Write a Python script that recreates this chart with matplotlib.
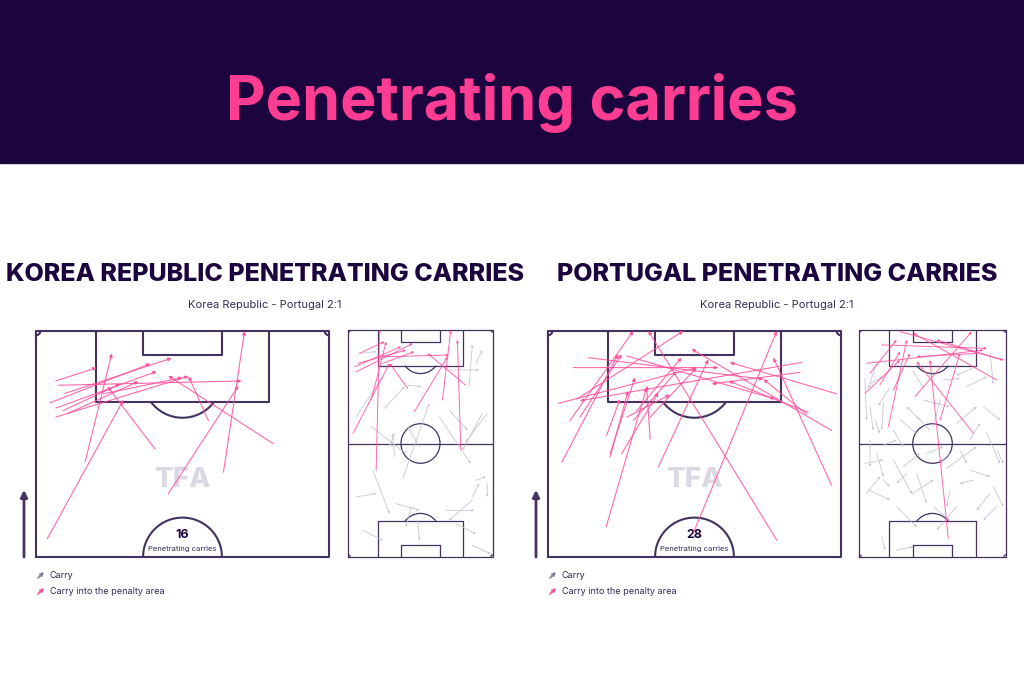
import matplotlib.pyplot as plt
from matplotlib.patches import Rectangle, Arc, FancyArrowPatch

# colours
NAVY = '#1c043e'
TITLE_PINK = '#ff3d92'
PINK = '#ff4f9e'
LINE = '#43325f'
GREY = '#c4bfd3'
PITCH_BG = '#f8f8fa'

TITLE = 'Penetrating carries'
SUBTITLE = 'Korea Republic - Portugal 2:1'
TEAMS = ['KOREA REPUBLIC PENETRATING CARRIES', 'PORTUGAL PENETRATING CARRIES']
COUNTS = [16, 28]

# carries in pitch metres (68 x 105), attacking upwards: x0, y0, x1, y1
kor_half = [
    (4.6, 93.4, 14.1, 96.5), (5.2, 92.4, 47.7, 93.4), (3.2, 88.3, 26.5, 97.4),
    (4.6, 87.1, 28.0, 95.6), (6.7, 90.5, 31.5, 98.7), (4.6, 85.0, 35.4, 94.5),
    (7.5, 85.9, 23.8, 93.3), (11.4, 74.6, 17.6, 99.8), (2.6, 56.7, 20.3, 89.0),
    (27.6, 77.6, 16.6, 92.1), (40.0, 84.2, 35.4, 94.5), (55.1, 78.8, 30.7, 94.6),
    (30.7, 67.2, 47.0, 92.3), (43.5, 72.2, 48.4, 105.0), (15.6, 90.4, 34.0, 94.2),
    (6.3, 86.5, 19.5, 92.7),
]
kor_full_pink = [
    (13.2, 40.1, 14.8, 105.0), (2.3, 57.1, 19.5, 89.6), (52.9, 49.4, 51.3, 100.4),
    (44.3, 72.6, 48.2, 105.0), (31.1, 67.2, 46.7, 92.6), (55.2, 79.5, 37.3, 94.2),
    (28.0, 78.0, 19.5, 89.6), (10.9, 72.6, 17.9, 99.6), (3.9, 85.7, 30.4, 98.8),
    (4.7, 89.6, 27.2, 95.7), (3.1, 88.0, 24.9, 97.3), (5.4, 94.2, 17.1, 99.6),
    (14.8, 92.6, 47.4, 93.4), (16.3, 89.6, 31.1, 95.0),
]
kor_full_grey = [
    (3.9, 64.9, 16.3, 83.4), (17.1, 68.7, 26.5, 78.8), (28.0, 79.5, 34.2, 78.8),
    (10.9, 60.2, 27.2, 47.9), (21.8, 57.1, 19.5, 51.0), (21.8, 46.3, 21.0, 57.1),
    (25.7, 36.3, 38.1, 71.0), (59.9, 89.6, 63.0, 95.7), (56.8, 78.8, 58.3, 98.1),
    (47.4, 86.5, 61.5, 86.5), (42.8, 64.9, 57.6, 43.2), (63.0, 66.4, 53.7, 49.4),
    (65.3, 66.4, 55.2, 53.2), (11.7, 40.1, 19.5, 20.1), (3.9, 27.8, 13.2, 29.3),
    (22.6, 24.7, 33.5, 21.6), (45.9, 21.6, 59.1, 21.6), (58.3, 26.3, 47.4, 17.0),
    (59.9, 35.5, 64.6, 37.1), (65.3, 34.0, 65.3, 27.8), (58.3, 27.8, 61.5, 34.0),
    (7.0, 12.4, 16.3, 7.7), (32.7, 17.0, 33.5, 7.7), (50.6, 15.4, 59.9, 10.8),
    (58.3, 5.4, 66.9, 1.5), (29.6, 23.2, 27.2, 13.9), (5.4, 94.2, 13.2, 95.0),
    (33.5, 51.0, 28.0, 60.2), (47.4, 68.0, 56.0, 58.7),
]

por_half = [
    (3.2, 74.5, 16.3, 99.6), (5.1, 84.2, 19.8, 105.0), (7.4, 85.0, 17.1, 99.6),
    (13.5, 59.5, 22.9, 91.9), (14.4, 75.7, 18.6, 91.1), (14.4, 76.5, 20.2, 94.2),
    (13.6, 80.7, 16.7, 89.2), (17.1, 76.5, 25.6, 90.7), (18.3, 85.0, 28.3, 90.2),
    (19.8, 84.2, 29.9, 95.7), (23.7, 79.9, 22.9, 92.3), (25.6, 73.4, 37.2, 98.4),
    (33.7, 58.0, 53.1, 105.0), (53.1, 56.4, 23.3, 105.0), (65.8, 69.2, 52.3, 98.8),
    (67.0, 90.4, 42.2, 97.7), (65.8, 81.9, 33.3, 100.8), (60.4, 86.1, 41.9, 93.4),
    (58.9, 97.7, 7.4, 88.8), (58.5, 95.4, 38.0, 92.7), (5.9, 96.5, 39.5, 96.5),
    (9.4, 98.8, 50.0, 93.8), (2.4, 88.2, 34.5, 96.5), (6.7, 89.2, 31.4, 105.0),
    (60.0, 85.7, 50.0, 93.8), (23.7, 85.0, 34.5, 96.5), (18.3, 99.2, 52.7, 89.2),
    (20.6, 86.5, 31.0, 98.8),
]
por_full_pink = [
    (41.3, 8.6, 32.8, 91.1), (52.9, 57.2, 26.7, 90.4), (13.6, 60.3, 22.1, 100.4),
    (25.9, 74.2, 52.1, 104.2), (37.5, 63.4, 46.7, 94.2), (2.8, 75.7, 19.0, 91.1),
    (5.1, 85.0, 17.4, 100.4), (10.5, 98.1, 59.1, 96.5), (3.5, 89.6, 57.5, 95.7),
    (19.0, 104.2, 66.8, 91.1), (63.7, 81.9, 25.1, 103.5), (15.9, 77.2, 23.6, 94.2),
    (9.7, 79.6, 19.0, 95.0), (66.8, 91.1, 35.9, 100.4), (54.4, 94.2, 26.7, 92.7),
]
por_full_grey = [
    (2.8, 82.6, 3.5, 63.4), (5.1, 69.5, 6.6, 58.7), (7.4, 63.4, 9.7, 57.2),
    (11.3, 71.1, 10.5, 58.7), (2.8, 43.3, 11.3, 44.9), (4.3, 31.0, 14.3, 26.4),
    (17.4, 3.2, 25.1, 4.8), (10.5, 9.4, 12.0, 3.2), (15.9, 44.9, 24.4, 29.4),
    (20.5, 41.8, 28.2, 47.9), (26.7, 38.7, 31.3, 24.8), (24.4, 29.4, 34.4, 35.6),
    (40.6, 41.0, 54.4, 51.0), (45.2, 61.8, 54.4, 69.5), (49.8, 78.8, 59.1, 83.4),
    (57.5, 69.5, 65.2, 63.4), (59.1, 57.2, 65.2, 43.3), (51.3, 40.2, 60.6, 37.2),
    (62.1, 32.5, 66.8, 23.3), (42.1, 31.0, 40.6, 23.3), (34.4, 23.3, 42.1, 17.1),
    (60.6, 29.4, 54.4, 21.7), (15.9, 58.7, 20.5, 51.0), (19.0, 63.4, 26.7, 57.2),
    (11.3, 51.8, 17.4, 54.1), (29.8, 72.6, 42.1, 69.5), (39.0, 81.9, 46.7, 82.6),
    (31.3, 47.9, 39.0, 51.0), (5.1, 54.1, 5.1, 41.8), (8.2, 47.9, 11.3, 37.2),
    (11.3, 35.6, 14.3, 32.5), (32.8, 58.7, 26.7, 64.9), (46.7, 49.5, 49.8, 43.3),
    (51.3, 54.1, 56.0, 61.8), (63.7, 23.3, 57.5, 17.1), (45.2, 23.3, 35.9, 12.5),
    (28.2, 63.4, 22.1, 69.5), (5.1, 80.3, 11.3, 83.4), (37.5, 72.6, 34.4, 60.3),
    (22.1, 38.7, 17.4, 34.1), (52.9, 35.6, 46.7, 34.1), (63.7, 49.5, 66.8, 43.3),
    (3.5, 29.4, 9.7, 37.2), (17.4, 23.3, 26.7, 14.0), (42.1, 47.9, 37.5, 43.3),
    (8.2, 90.0, 4.3, 78.0), (60.6, 95.0, 62.1, 80.0), (25.0, 86.0, 30.0, 78.0),
    (54.0, 88.0, 45.0, 84.0), (14.0, 78.0, 9.0, 70.0),
]

W, H = 1024, 683


def fig_rect(x, y, w, h):
    # pixel box (top-left origin) -> figure fraction
    return [x / W, 1 - (y + h) / H, w / W, h / H]


def draw_pitch(ax, half, lw):
    ax.set_facecolor(PITCH_BG)
    kw = dict(color=LINE, lw=lw, zorder=1)
    base = 52.5 if half else 0
    ax.plot([0, 68, 68, 0, 0], [base, base, 105, 105, base], solid_joinstyle='round',
            clip_on=False, **kw)
    ends = [105] if half else [105, 0]
    for g in ends:
        s = -1 if g == 105 else 1
        ax.plot([13.84, 13.84, 54.16, 54.16], [g, g + s * 16.5, g + s * 16.5, g], **kw)
        ax.plot([24.84, 24.84, 43.16, 43.16], [g, g + s * 5.5, g + s * 5.5, g], **kw)
        ax.add_patch(Arc((34, g + s * 11), 18.3, 18.3, theta1=(216.9 if s < 0 else 36.9),
                         theta2=(323.1 if s < 0 else 143.1), **kw))
        for cx in (0, 68):
            t1 = {(0, 105): 270, (68, 105): 180, (0, 0): 0, (68, 0): 90}[(cx, g)]
            ax.add_patch(Arc((cx, g), 2, 2, theta1=t1, theta2=t1 + 90, **kw))
    if half:
        ax.add_patch(Arc((34, 52.5), 18.3, 18.3, theta1=0, theta2=180, **kw))
    else:
        ax.plot([0, 68], [52.5, 52.5], **kw)
        ax.add_patch(Arc((34, 52.5), 18.3, 18.3, **kw))
    ax.set_xlim(0, 68)
    ax.set_ylim(base, 105)
    ax.axis('off')
    ax.patch.set_visible(True)


def draw_carries(ax, carries, color, lw, ms, z, alpha=1.0):
    for x0, y0, x1, y1 in carries:
        ax.annotate('', xy=(x1, y1), xytext=(x0, y0),
                    arrowprops=dict(arrowstyle='-|>', color=color, lw=lw, alpha=alpha,
                                    mutation_scale=ms, shrinkA=0, shrinkB=0),
                    zorder=z, annotation_clip=False)


fig = plt.figure(figsize=(10.24, 6.83), dpi=100)
fig.patch.set_facecolor('white')
fig.add_artist(Rectangle((0, 1 - 163 / H), 1, 163 / H, transform=fig.transFigure,
                         color=NAVY, zorder=0))
fig.text(0.5, 1 - 103 / H, TITLE, ha='center', va='center', color=TITLE_PINK,
         fontsize=44, fontweight='bold', family='Inter')

panels = [
    dict(x0=0, half=kor_half, pink=kor_full_pink, grey=kor_full_grey,
         hx=36, fx=348, fw=145),
    dict(x0=512, half=por_half, pink=por_full_pink, grey=por_full_grey,
         hx=548, fx=859, fw=147),
]

for i, p in enumerate(panels):
    cx = (p['x0'] + 265) / W
    fig.text(cx, 1 - 274 / H, TEAMS[i], ha='center', va='center', color=NAVY,
             fontsize=18, fontweight='heavy', family='Inter')
    fig.text(cx, 1 - 305 / H, SUBTITLE, ha='center', va='center', color='#3a2a55',
             fontsize=8, family='Inter')

    axh = fig.add_axes(fig_rect(p['hx'], 331, 293, 226))
    draw_pitch(axh, True, 1.5)
    axh.text(34, 70.5, 'TFA', ha='center', va='center', fontsize=20,
             fontweight='heavy', color='#dcd8e3', family='Inter', zorder=1)
    axh.text(34, 57.6, str(COUNTS[i]), ha='center', va='center', fontsize=9,
             fontweight='bold', color=NAVY, family='Inter')
    axh.text(34, 54.3, 'Penetrating carries', ha='center', va='center',
             fontsize=5.5, color='#3a2a55', family='Inter')
    draw_carries(axh, p['half'], PINK, 0.8, 5, 3, 0.85)

    axf = fig.add_axes(fig_rect(p['fx'], 330, p['fw'], 227))
    draw_pitch(axf, False, 0.9)
    draw_carries(axf, p['grey'], GREY, 0.6, 2.5, 2, 0.9)
    draw_carries(axf, p['pink'], PINK, 0.7, 3, 3, 0.85)

    # direction of play arrow
    ax_px = p['hx'] - 12
    fig.add_artist(FancyArrowPatch((ax_px / W, 1 - 557 / H), (ax_px / W, 1 - 490 / H),
                                   arrowstyle='-|>', mutation_scale=10, lw=2,
                                   color=LINE, shrinkA=0, shrinkB=0,
                                   transform=fig.transFigure))

    # legend
    lx = p['hx'] + 2
    for j, (col, lab) in enumerate([('#8a7f9f', 'Carry'), (PINK, 'Carry into the penalty area')]):
        yy = 575 + 16 * j
        fig.add_artist(FancyArrowPatch(
            (lx / W, 1 - (yy + 3) / H), ((lx + 6) / W, 1 - (yy - 3) / H),
            arrowstyle='-|>', mutation_scale=5, lw=1.2, shrinkA=0, shrinkB=0,
            color=col, transform=fig.transFigure))
        fig.text((lx + 12) / W, 1 - yy / H, lab, ha='left', va='center',
                 fontsize=6.5, color='#3a2a55', family='Inter')

fig.savefig('out.png', dpi=100, facecolor='white')
